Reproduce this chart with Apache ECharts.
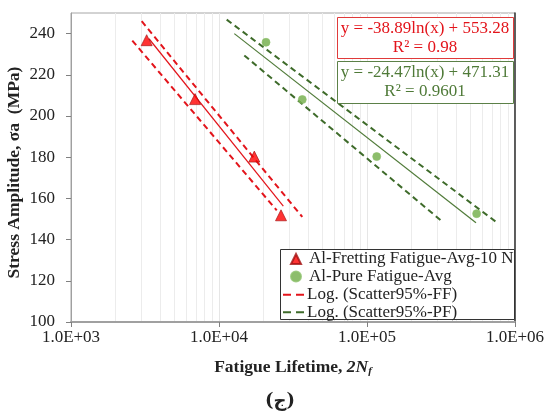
<!DOCTYPE html>
<html><head><meta charset="utf-8">
<script src="https://cdn.jsdelivr.net/npm/echarts@6/dist/echarts.min.js"></script>
<style>html,body{margin:0;padding:0;background:#fff}#c{width:548px;height:412px}</style>
</head><body><div id="c"></div>
<script>
// ---- data ----
const ffName = 'Al-Fretting Fatigue-Avg-10 N';
const pfName = 'Al-Pure Fatigue-Avg';
const ffBandName = 'Log. (Scatter95%-FF)';
const pfBandName = 'Log. (Scatter95%-PF)';

const ffLife = [3245, 6890, 17320, 26240];
const ffStress = [236.8, 208.2, 180.3, 151.8];
const pfLife = [20780, 36540, 116300, 550500];
const pfStress = [235.8, 208.0, 180.3, 152.6];

const ffTrendLife = [3365, 27200];
const ffTrendStress = [237.5, 156.2];
const pfTrendLife = [12690, 545000];
const pfTrendStress = [240.0, 148.2];

const ffUpperLife = [3004, 36540];
const ffUpperStress = [246.0, 151.0];
const ffLowerLife = [2595, 24550];
const ffLowerStress = [236.6, 154.2];
const pfUpperLife = [11270, 771000];
const pfUpperStress = [246.8, 147.8];
const pfLowerLife = [14830, 314600];
const pfLowerStress = [229.4, 149.4];

const xTickLabels = {1000: '1.0E+03', 10000: '1.0E+04', 100000: '1.0E+05', 1000000: '1.0E+06'};
const decades = [1000, 10000, 100000];
const minorMultipliers = [2, 3, 4, 5, 6, 7, 8, 9];

const ffEq = ['y = -38.89ln(x) + 553.28', 'R² = 0.98'];
const pfEq = ['y = -24.47ln(x) + 471.31', 'R² = 0.9601'];

// ---- build ----
const zip = (a, b) => a.map((v, i) => [v, b[i]]);
const minorLines = [];
decades.forEach(d => minorMultipliers.forEach(m => minorLines.push({xAxis: d * m})));

const serif = 'Liberation Serif';
const red = '#e3141b';
const darkGreen = '#3e6b2a';
const green = '#70ad47';
const dashIcon = 'path://M0,0H8V2H0Z M13,0H21V2H13Z';

const chart = echarts.init(document.getElementById('c'));
chart.setOption({
  animation: false,
  backgroundColor: '#fff',
  grid: {left: 71, right: 33, top: 13, bottom: 90, show: true, borderColor: '#a6a6a6', borderWidth: 1,
    containLabel: false, outerBoundsMode: 'none'},
  xAxis: {
    type: 'log', logBase: 10, min: 1000, max: 1000000,
    axisLine: {lineStyle: {color: '#a0a0a0', width: 2}},
    axisTick: {show: true, length: 5, lineStyle: {color: '#808080'}},
    splitLine: {show: true, lineStyle: {color: '#e6e6e6', width: 1}},
    axisLabel: {fontFamily: serif, fontSize: 17, color: '#222', margin: 7,
      formatter: v => xTickLabels[Math.round(v)] || ''},
    name: '{b|Fatigue Lifetime, }{bi|2N}{sub|f}',
    nameLocation: 'middle', nameGap: 35,
    nameTextStyle: {rich: {
      b: {fontFamily: serif, fontWeight: 'bold', fontSize: 17.5, color: '#222'},
      bi: {fontFamily: serif, fontWeight: 'bold', fontStyle: 'italic', fontSize: 17.5, color: '#222'},
      sub: {fontFamily: serif, fontWeight: 'bold', fontStyle: 'italic', fontSize: 11, color: '#222', verticalAlign: 'bottom', padding: [9, 0, 0, 0]}
    }}
  },
  yAxis: [{
    type: 'value', min: 100, max: 250, interval: 20,
    axisLine: {show: true, lineStyle: {color: '#a0a0a0', width: 1}},
    axisTick: {show: true, length: 5, lineStyle: {color: '#808080'}},
    splitLine: {show: false},
    axisLabel: {fontFamily: serif, fontSize: 17, color: '#222', margin: 16, showMaxLabel: false},
    name: 'Stress Amplitude, σa  (MPa)',
    nameLocation: 'middle', nameGap: 48, nameMoveOverlap: false,
    nameTextStyle: {fontFamily: serif, fontWeight: 'bold', fontSize: 17.5, color: '#222', padding: [0, 10, 0, 0]}
  }, {
    type: 'value', min: 100, max: 250, position: 'right',
    axisLine: {show: true, lineStyle: {color: '#333', width: 1.5}},
    axisTick: {show: false}, axisLabel: {show: false}, splitLine: {show: false}
  }],
  legend: [{
    data: [{name: ffName, icon: 'triangle'}, {name: pfName, icon: 'circle'}],
    orient: 'vertical', left: 290, top: 250.5,
    padding: 0, itemGap: 0.6, itemWidth: 10, itemHeight: 10,
    textStyle: {fontFamily: serif, fontSize: 17, lineHeight: 17, color: '#222', padding: [0, 0, 0, 3]}
  }, {
    data: [ffBandName, pfBandName],
    orient: 'vertical', left: 283, top: 286.2,
    padding: 0, itemGap: 0.6, itemWidth: 21, itemHeight: 2,
    icon: dashIcon,
    textStyle: {fontFamily: serif, fontSize: 17, lineHeight: 17, color: '#222', padding: [0, 0, 0, -2]}
  }],
  series: [
    {name: 'ffTrend', type: 'line', data: zip(ffTrendLife, ffTrendStress), symbol: 'none',
      lineStyle: {color: red, width: 1.2}, z: 2},
    {name: 'pfTrend', type: 'line', data: zip(pfTrendLife, pfTrendStress), symbol: 'none',
      lineStyle: {color: '#4f7a38', width: 1.2}, z: 2,
      markLine: {silent: true, symbol: 'none', label: {show: false},
        lineStyle: {color: '#ececec', width: 1, type: 'solid'}, data: minorLines, z: 0}},
    {name: ffBandName, type: 'line', data: zip(ffUpperLife, ffUpperStress), symbol: 'none',
      itemStyle: {color: red}, lineStyle: {color: red, width: 2, type: [6, 4]}, z: 3},
    {name: ffBandName, type: 'line', data: zip(ffLowerLife, ffLowerStress), symbol: 'none',
      itemStyle: {color: red}, lineStyle: {color: red, width: 2, type: [6, 4]}, z: 3},
    {name: pfBandName, type: 'line', data: zip(pfUpperLife, pfUpperStress), symbol: 'none',
      itemStyle: {color: darkGreen}, lineStyle: {color: darkGreen, width: 2, type: [6, 4]}, z: 3},
    {name: pfBandName, type: 'line', data: zip(pfLowerLife, pfLowerStress), symbol: 'none',
      itemStyle: {color: darkGreen}, lineStyle: {color: darkGreen, width: 2, type: [6, 4]}, z: 3},
    {name: ffName, type: 'scatter', data: zip(ffLife, ffStress), symbol: 'triangle', symbolSize: 11,
      itemStyle: {color: '#ff0000', borderColor: '#a01010', borderWidth: 0.8}, z: 4},
    {name: pfName, type: 'scatter', data: zip(pfLife, pfStress), symbol: 'circle', symbolSize: 8,
      itemStyle: {color: green, borderColor: '#8cc06a', borderWidth: 0.8}, z: 4}
  ],
  graphic: [
    {type: 'rect', left: 280, top: 249, shape: {width: 234, height: 70},
      style: {fill: '#fff', stroke: '#333', lineWidth: 1}, z: 3},
    {type: 'rect', left: 337, top: 17, shape: {width: 176, height: 41},
      style: {fill: '#fff', stroke: '#e03a3a', lineWidth: 1}, z: 10},
    {type: 'text', x: 425, y: 29, z: 11,
      style: {text: ffEq[0], fontFamily: serif, fontSize: 17, fill: red, align: 'center', verticalAlign: 'middle'}},
    {type: 'text', x: 425, y: 48, z: 11,
      style: {text: ffEq[1], fontFamily: serif, fontSize: 17, fill: red, align: 'center', verticalAlign: 'middle'}},
    {type: 'rect', left: 337, top: 61, shape: {width: 176, height: 42},
      style: {fill: '#fff', stroke: '#5b8047', lineWidth: 1}, z: 10},
    {type: 'text', x: 425, y: 73, z: 11,
      style: {text: pfEq[0], fontFamily: serif, fontSize: 17, fill: '#4f7a38', align: 'center', verticalAlign: 'middle'}},
    {type: 'text', x: 425, y: 92, z: 11,
      style: {text: pfEq[1], fontFamily: serif, fontSize: 17, fill: '#4f7a38', align: 'center', verticalAlign: 'middle'}},
    {type: 'text', x: 280, y: 401, z: 11,
      style: {text: '(ج)', fontFamily: 'DejaVu Serif, DejaVu Sans', fontWeight: 'bold', fontSize: 18, fill: '#222', align: 'center', verticalAlign: 'middle'}}
  ]
});
</script></body></html>
